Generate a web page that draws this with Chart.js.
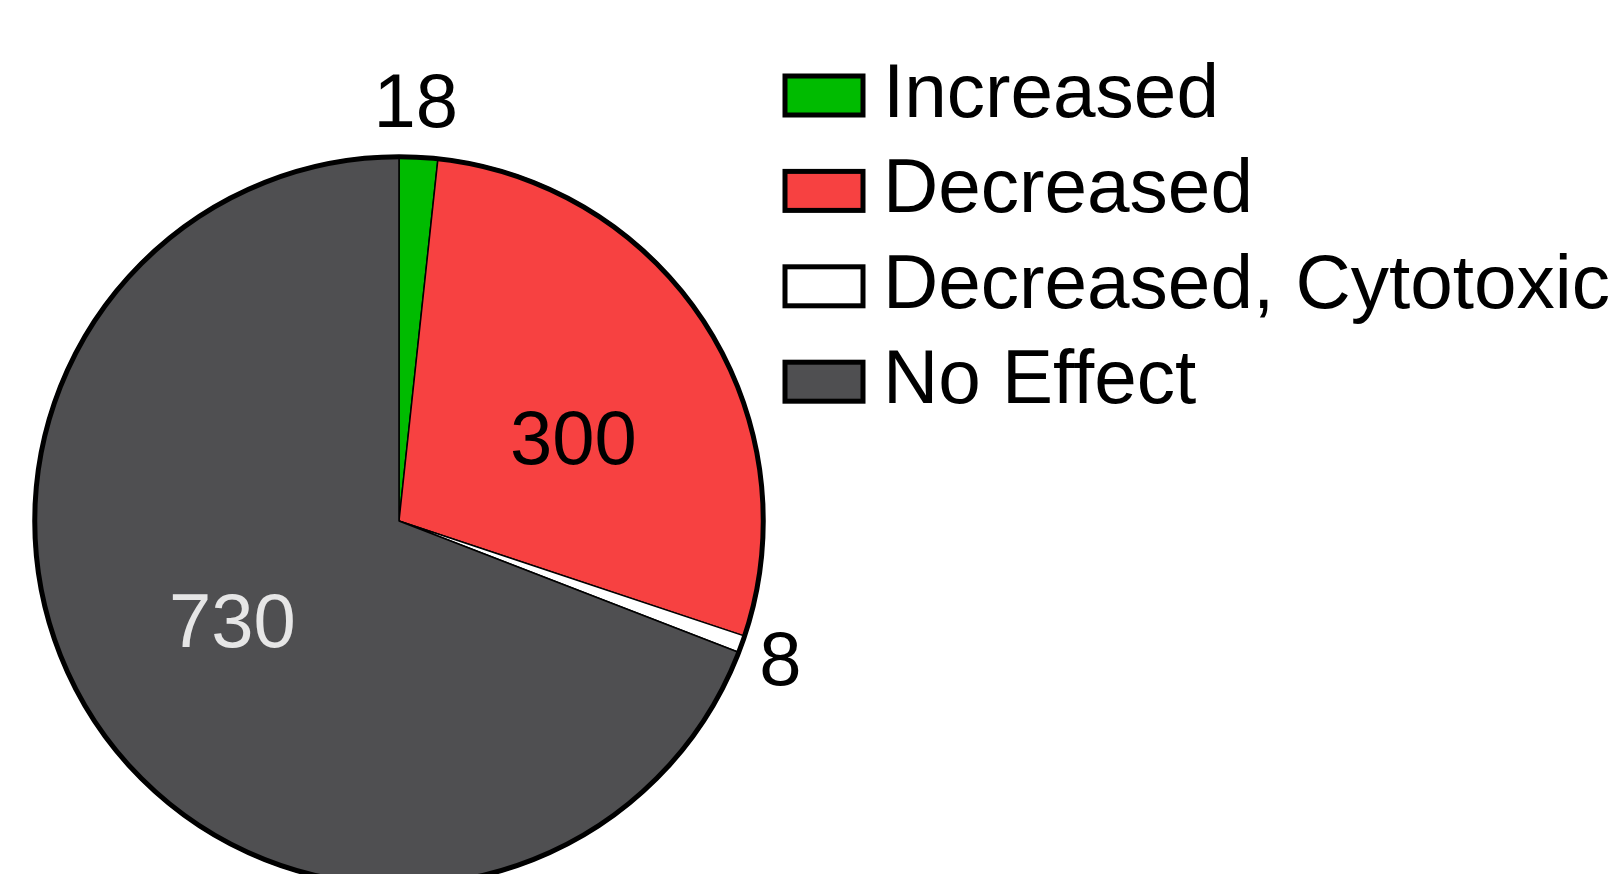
<!DOCTYPE html>
<html>
<head>
<meta charset="utf-8">
<title>Pie</title>
<script src="https://cdn.jsdelivr.net/npm/chart.js@4.4.1/dist/chart.umd.min.js"></script>
<style>
    html, body { margin: 0; padding: 0; background: #ffffff; overflow: hidden; }
    #wrap { position: relative; width: 1618px; height: 900px; }
</style>
</head>
<body>
<div id="wrap"><canvas id="popChart"></canvas></div>
<script>
"use strict";

var categories = ["Increased", "Decreased", "Decreased, Cytotoxic", "No Effect"];
var counts = [18, 300, 8, 730];
var sliceColors = ["#00BB00", "#F74141", "#FFFFFF", "#4F4F51"];

// where each number goes: inside (fraction of radius) or outside (px past the edge),
// turn = small nudge along the circle in degrees
var labelSpots = [
    {outside: true, dist: 56, turn: -0.8, color: "#000000"},
    {outside: false, dist: 0.53, turn: 7, color: "#000000"},
    {outside: true, dist: 40, turn: 0, color: "#000000"},
    {outside: false, dist: 0.53, turn: 3.8, color: "#E6E6E6"}
];

var FONT = "'Liberation Sans', Arial, sans-serif";

var pieExtras = {
    id: "pieExtras",
    afterDatasetsDraw: function(chart) {
        var ctx = chart.ctx;
        var meta = chart.getDatasetMeta(0);
        var first = meta.data[0];

        // thick outer ring
        ctx.save();
        ctx.beginPath();
        ctx.arc(first.x, first.y, first.outerRadius - 1, 0, Math.PI * 2);
        ctx.lineWidth = 5;
        ctx.strokeStyle = "#000000";
        ctx.stroke();
        ctx.restore();

        // numbers
        ctx.save();
        ctx.font = "76px " + FONT;
        ctx.textAlign = "center";
        ctx.textBaseline = "alphabetic";
        meta.data.forEach(function(arc, i) {
            var p = arc.getProps(["x", "y", "startAngle", "endAngle", "outerRadius"], true);
            var spot = labelSpots[i];
            var mid = (p.startAngle + p.endAngle) / 2 + spot.turn * Math.PI / 180;
            var d = spot.outside ? p.outerRadius + spot.dist : p.outerRadius * spot.dist;
            var lx = p.x + Math.cos(mid) * d;
            var ly = p.y + Math.sin(mid) * d;
            ctx.fillStyle = spot.color;
            ctx.fillText(String(chart.data.datasets[0].data[i]), lx, ly + 27);
        });
        ctx.restore();

        // legend on the right
        ctx.save();
        ctx.font = "76.5px " + FONT;
        ctx.textAlign = "left";
        ctx.textBaseline = "alphabetic";
        chart.data.labels.forEach(function(lab, i) {
            var base = 117 + i * 95.4;
            ctx.fillStyle = chart.data.datasets[0].backgroundColor[i];
            ctx.fillRect(785, base - 41, 78, 39);
            ctx.lineWidth = 5;
            ctx.strokeStyle = "#000000";
            ctx.strokeRect(785, base - 41, 78, 39);
            ctx.fillStyle = "#000000";
            ctx.fillText(lab, 883, base);
        });
        ctx.restore();
    }
};

var datos = {
    type: "pie",
    data: {
        labels: categories,
        datasets: [{
            data: counts,
            backgroundColor: sliceColors,
            borderColor: "#000000",
            borderWidth: 1.5
        }]
    },
    options: {
        responsive: true,
        maintainAspectRatio: false,
        animation: false,
        events: [],
        layout: {
            padding: {left: 33, right: 853, top: 155, bottom: 13}
        },
        plugins: {
            legend: {display: false},
            tooltip: {enabled: false}
        }
    },
    plugins: [pieExtras]
};

var popCanvas = document.getElementById("popChart").getContext("2d");
window.pie = new Chart(popCanvas, datos);
</script>
</body>
</html>
